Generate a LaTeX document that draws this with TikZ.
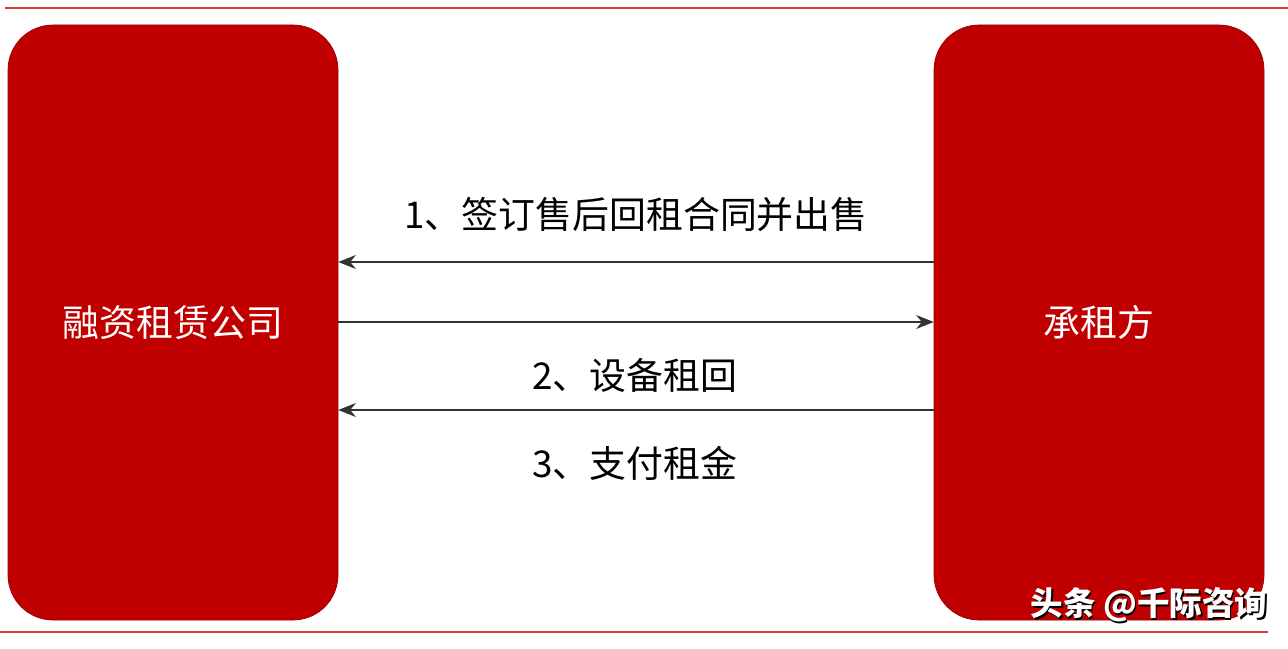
\documentclass[tikz,border=0pt]{standalone}
\usepackage{fontspec}
\newfontfamily\cjk{Noto Sans CJK SC}
\usetikzlibrary{arrows.meta,positioning}
\definecolor{boxred}{HTML}{C00000}
\definecolor{rulered}{HTML}{D83A32}

\begin{document}
\begin{tikzpicture}[font=\cjk,
   party/.style={draw=boxred!80!black,fill=boxred,rounded corners=0.9cm,minimum width=6.6cm,
      minimum height=11.9cm,inner sep=0pt,text=white,font=\cjk\fontsize{21}{25}\selectfont},
   flow/.style={-{Stealth[length=10pt,width=8pt]},line width=0.8pt,draw=black!80},
   step label/.style={font=\cjk\fontsize{21}{25}\selectfont,text=black}]
   \useasboundingbox (0,0) rectangle (25.76,12.96);
   % rules top and bottom
   \coordinate (topl) at (0.1,12.8);
   \coordinate (topr) at (25.76,12.8);
   \coordinate (botl) at (0,0.32);
   \coordinate (botr) at (25.36,0.32);
   \draw[rulered,line width=1.4pt] (topl) -- (topr);
   \draw[rulered,line width=1.4pt] (botl) -- (botr);
   % the two parties
   \node[party] (firm) at (3.46,6.51) {融资租赁公司};
   \node[party] (lessee) at (21.98,6.51) {承租方};
   % flows
   \coordinate (y1) at (0,7.72);
   \coordinate (y2) at (0,6.52);
   \coordinate (y3) at (0,4.76);
   \draw[flow] (lessee.west |- y1) -- (firm.east |- y1);
   \draw[flow] (firm.east |- y2) -- (lessee.west |- y2);
   \draw[flow] (lessee.west |- y3) -- (firm.east |- y3);
   \node[step label] (s1) at (12.72,8.66) {1、签订售后回租合同并出售};
   \node[step label] (s2) at (12.7,5.46) {2、设备租回};
   \node[step label] (s3) at (12.7,3.7) {3、支付租金};
   % mark
   \node[text=black,font=\cjk\bfseries\fontsize{18.5}{22}\selectfont] (markshadow) at (23.01,0.83) {头条 @千际咨询};
   \node[text=white,font=\cjk\bfseries\fontsize{18.5}{22}\selectfont] (mark) at (22.98,0.86) {头条 @千际咨询};
\end{tikzpicture}
\end{document}
